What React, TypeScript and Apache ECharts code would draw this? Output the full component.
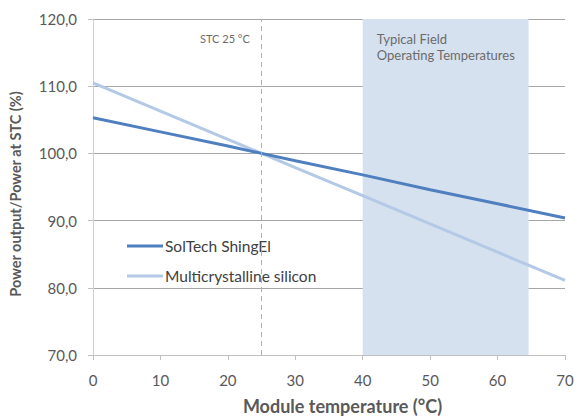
import React, { useEffect, useRef } from "react";
import * as echarts from "echarts";

const temperatures = [0, 10, 20, 25, 30, 40, 50, 60, 70];
const solTech = [105.3, 103.2, 101.1, 100.0, 98.9, 96.8, 94.6, 92.5, 90.4];
const multiSi = [110.5, 106.3, 102.1, 100.0, 97.9, 93.7, 89.5, 85.3, 81.1];
const seriesNames = ["SolTech ShingEl", "Multicrystalline silicon"];
const stcTemp = 25;
const fieldRange = [40, 64.6];
const xTitle = "Module temperature (°C)";
const yTitle = "Power output/Power at STC (%)";

const FONT = "Lato, 'Open Sans', sans-serif";
const TXT = "#595959";

export default function App() {
  const ref = useRef<HTMLDivElement>(null);
  useEffect(() => {
    if (!ref.current) return;
    const chart = echarts.init(ref.current, undefined, { renderer: "svg" });
    chart.setOption({
      animation: false,
      backgroundColor: "#ffffff",
      textStyle: { fontFamily: FONT },
      grid: {
        left: 93,
        right: 9,
        top: 19,
        bottom: 61,
        containLabel: false,
        outerBoundsMode: "none",
      },
      legend: {
        orient: "vertical",
        left: 122,
        top: 233,
        icon: "rect",
        itemWidth: 36,
        itemHeight: 3,
        itemGap: 14,
        data: seriesNames,
        textStyle: { fontFamily: FONT, fontSize: 15.5, color: "#404040", padding: [0, 0, 0, -3] },
      },
      xAxis: {
        type: "value",
        min: 0,
        max: 70,
        interval: 10,
        name: xTitle,
        nameLocation: "middle",
        nameGap: 42,
        nameTextStyle: { fontFamily: FONT, fontSize: 18, fontWeight: "bold", color: TXT, padding: [0, 0, 0, 27] },
        axisLine: { show: true, lineStyle: { color: "#c0c0c0", width: 1 } },
        axisTick: { show: true, length: 5, lineStyle: { color: "#c0c0c0" } },
        axisLabel: { fontFamily: FONT, fontSize: 15, color: TXT, margin: 17 },
        splitLine: { show: false },
      },
      yAxis: {
        type: "value",
        min: 70,
        max: 120,
        interval: 10,
        name: yTitle,
        nameLocation: "middle",
        nameGap: 70,
        nameRotate: 90,
        nameTextStyle: { fontFamily: FONT, fontSize: 14.5, fontWeight: "bold", color: TXT, padding: [0, 14, 0, 0] },
        axisLine: { show: true, lineStyle: { color: "#d0d0d0", width: 1 } },
        axisTick: { show: true, length: 5, lineStyle: { color: "#c0c0c0" } },
        axisLabel: {
          fontFamily: FONT,
          fontSize: 15,
          color: TXT,
          margin: 16,
          formatter: (v: number) => v.toFixed(1).replace(".", ","),
        },
        splitLine: { show: true, lineStyle: { color: "#a6a6a6", width: 1 } },
      },
      series: [
        {
          name: seriesNames[0],
          type: "line",
          data: temperatures.map((t, i) => [t, solTech[i]]),
          symbol: "none",
          smooth: false,
          lineStyle: { color: "#4f7fbf", width: 3 },
          itemStyle: { color: "#4f7fbf" },
          z: 3,
          markArea: {
            silent: true,
            itemStyle: { color: "#d6e1f0" },
            label: {
              show: true,
              position: "insideTopLeft",
              formatter: "Typical Field\nOperating Temperatures",
              fontFamily: FONT,
              fontSize: 13,
              color: "#6b6b6b",
              lineHeight: 16,
              offset: [9, 7],
            },
            data: [[{ xAxis: fieldRange[0] }, { xAxis: fieldRange[1] }]],
          },
          markLine: {
            silent: true,
            symbol: "none",
            lineStyle: { color: "#b0b0b0", type: [5, 4], width: 1 },
            label: { show: false },
            data: [{ xAxis: stcTemp }],
          },
        },
        {
          name: seriesNames[1],
          type: "line",
          data: temperatures.map((t, i) => [t, multiSi[i]]),
          symbol: "none",
          smooth: false,
          lineStyle: { color: "#b3c9e6", width: 3 },
          itemStyle: { color: "#b3c9e6" },
          z: 2,
        },
      ],
      graphic: [
        {
          type: "text",
          left: 200,
          top: 33,
          style: { text: "STC 25 °C", fontFamily: FONT, fontSize: 11, fill: "#6b6b6b" },
        },
      ],
    });
    return () => chart.dispose();
  }, []);
  return (
    <div
      ref={ref}
      style={{ position: "fixed", left: 0, top: 0, width: 574, height: 416, overflow: "hidden" }}
    />
  );
}
